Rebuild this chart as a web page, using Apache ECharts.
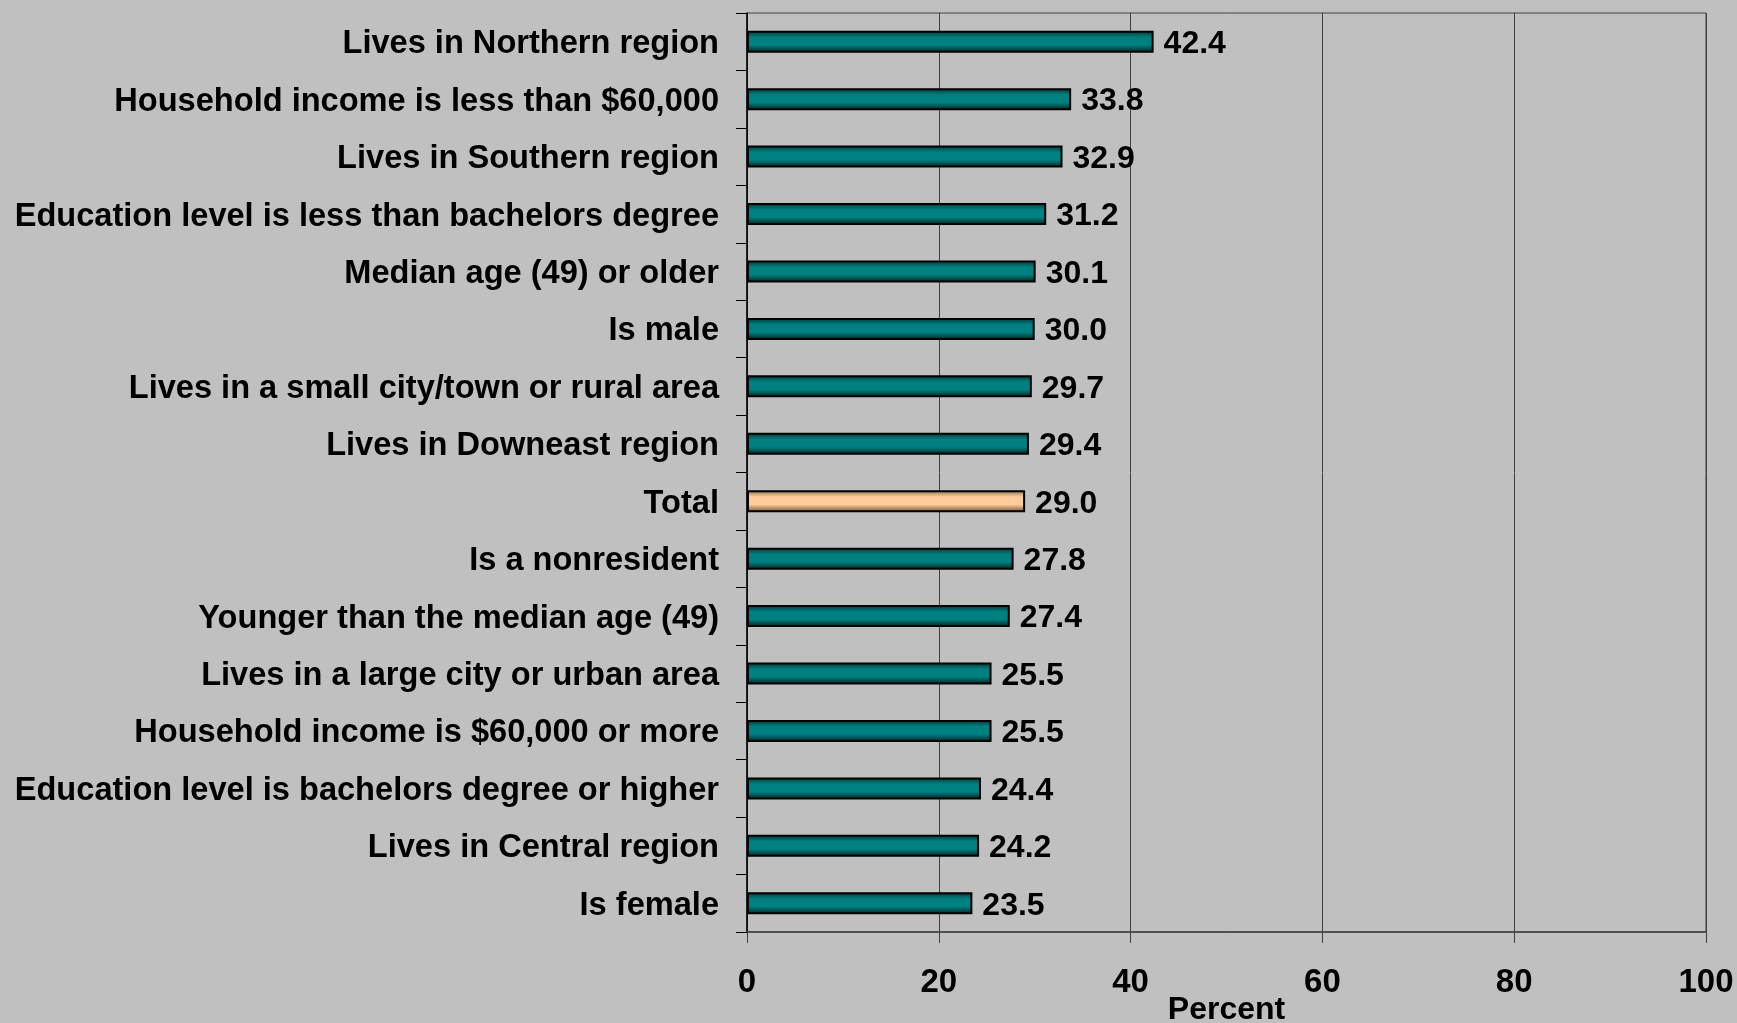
<!DOCTYPE html>
<html>
<head>
<meta charset="utf-8">
<script src="https://cdn.jsdelivr.net/npm/echarts@6/dist/echarts.min.js"></script>
<style>
  html, body { margin: 0; padding: 0; background: #c0c0c0; }
  #chart { width: 1737px; height: 1023px; }
</style>
</head>
<body>
<div id="chart"></div>
<script>
// categories, top to bottom
const groups = [
  "Lives in Northern region",
  "Household income is less than $60,000",
  "Lives in Southern region",
  "Education level is less than bachelors degree",
  "Median age (49) or older",
  "Is male",
  "Lives in a small city/town or rural area",
  "Lives in Downeast region",
  "Total",
  "Is a nonresident",
  "Younger than the median age (49)",
  "Lives in a large city or urban area",
  "Household income is $60,000 or more",
  "Education level is bachelors degree or higher",
  "Lives in Central region",
  "Is female"
];
const percents = [42.4, 33.8, 32.9, 31.2, 30.1, 30.0, 29.7, 29.4, 29.0, 27.8, 27.4, 25.5, 25.5, 24.4, 24.2, 23.5];
const xTicks = [0, 20, 40, 60, 80, 100];

const font = "'Liberation Sans', Arial, sans-serif";

// shaded bar fills (dark edges, light middle)
const tealFill = new echarts.graphic.LinearGradient(0, 0, 0, 1, [
  { offset: 0, color: '#003434' },
  { offset: 0.3, color: '#008080' },
  { offset: 0.65, color: '#008080' },
  { offset: 1, color: '#002020' }
]);
const peachFill = new echarts.graphic.LinearGradient(0, 0, 0, 1, [
  { offset: 0, color: '#8a6c50' },
  { offset: 0.3, color: '#ffcc99' },
  { offset: 0.65, color: '#ffcc99' },
  { offset: 1, color: '#6a5038' }
]);

const barData = percents.map(function (v, i) {
  return {
    value: v,
    itemStyle: { color: groups[i] === 'Total' ? peachFill : tealFill }
  };
});

let myChart = echarts.init(document.getElementById('chart'));
myChart.setOption({
  backgroundColor: '#c0c0c0',
  animation: false,
  grid: {
    left: 747, right: 31, top: 13, bottom: 91,
    outerBoundsMode: 'none',
    containLabel: false,
    show: true, borderColor: '#404040', borderWidth: 1,
    backgroundColor: 'transparent'
  },
  xAxis: {
    type: 'value',
    min: xTicks[0],
    max: xTicks[xTicks.length - 1],
    interval: 20,
    name: 'Percent',
    nameLocation: 'middle',
    nameGap: 62,
    nameMoveOverlap: false,
    nameTextStyle: { fontFamily: font, fontWeight: 'bold', fontSize: 32, color: '#000' },
    axisLine: { show: true, lineStyle: { color: '#404040', width: 1.5 } },
    axisTick: { show: true, length: 11, lineStyle: { color: '#404040' } },
    axisLabel: { fontFamily: font, fontWeight: 'bold', fontSize: 33, color: '#000', margin: 34 },
    splitLine: { show: true, lineStyle: { color: '#404040', width: 1 } }
  },
  yAxis: {
    type: 'category',
    data: groups,
    inverse: true,
    axisLine: { show: true, lineStyle: { color: '#000', width: 1.5 } },
    axisTick: { show: true, length: 11, lineStyle: { color: '#000' } },
    axisLabel: {
      margin: 28,
      formatter: function (v) { return '{t|' + v + '}'; },
      rich: {
        t: { fontFamily: font, fontWeight: 'bold', fontSize: 32.6, color: '#000', padding: [5, 0, 0, 0] }
      }
    },
    splitLine: { show: false }
  },
  series: [{
    type: 'bar',
    data: barData,
    barWidth: 22,
    itemStyle: { borderColor: '#000', borderWidth: 2 },
    label: {
      show: true,
      position: 'right',
      distance: 10,
      formatter: function (p) { return '{v|' + p.value.toFixed(1) + '}'; },
      rich: {
        v: { fontFamily: font, fontWeight: 'bold', fontSize: 32, color: '#000', padding: [5, 0, 0, 0] }
      }
    }
  }]
});
</script>
</body>
</html>
